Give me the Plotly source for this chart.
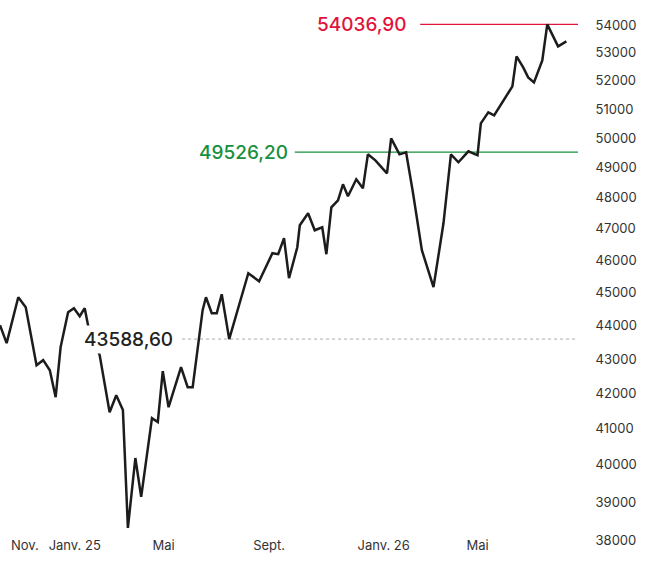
import math
import plotly.graph_objects as go

dates = [
    "2024-10-02", "2024-10-10", "2024-10-24", "2024-11-02", "2024-11-15", "2024-11-23",
    "2024-12-01", "2024-12-08", "2024-12-14", "2024-12-23", "2024-12-30", "2025-01-06",
    "2025-01-12", "2025-01-16", "2025-01-23", "2025-01-30", "2025-02-11", "2025-02-19",
    "2025-02-27", "2025-03-05", "2025-03-14", "2025-03-21", "2025-04-03", "2025-04-10",
    "2025-04-16", "2025-04-23", "2025-05-08", "2025-05-16", "2025-05-22", "2025-06-03",
    "2025-06-07", "2025-06-14", "2025-06-20", "2025-06-26", "2025-07-05", "2025-07-28",
    "2025-08-10", "2025-08-26", "2025-09-02", "2025-09-09", "2025-09-15", "2025-09-25",
    "2025-09-28", "2025-10-08", "2025-10-16", "2025-10-25", "2025-10-30", "2025-11-05",
    "2025-11-13", "2025-11-19", "2025-11-25", "2025-12-05", "2025-12-13", "2025-12-19",
    "2025-12-28", "2026-01-11", "2026-01-16", "2026-01-26", "2026-02-03", "2026-02-11",
    "2026-02-22", "2026-03-08", "2026-03-20", "2026-03-29", "2026-04-07", "2026-04-19",
    "2026-04-30", "2026-05-04", "2026-05-13", "2026-05-20", "2026-06-11", "2026-06-16",
    "2026-06-24", "2026-06-30", "2026-07-07", "2026-07-17", "2026-07-23", "2026-08-05",
    "2026-08-15",
]
values = [
    44005, 43469, 44852, 44549, 42817, 42966,
    42671, 41893, 43351, 44394, 44518, 44273,
    44518, 44005, 43556, 43114, 41466, 41950,
    41525, 38313, 40188, 39134, 41297, 41185,
    42642, 41607, 42758, 42181, 42181, 44457,
    44852, 44364, 44364, 44944, 43586, 45593,
    45345, 46220, 46189, 46696, 45438, 46409,
    47110, 47497, 46950, 47046, 46189, 47693,
    47922, 48448, 48053, 48613, 48315, 49449,
    49247, 48812, 49992, 49449, 49517, 48218,
    46316, 45161, 47174, 49449, 49183, 49550,
    49417, 50506, 50888, 50783, 51799, 52870,
    52474, 52117, 51940, 52726, 54036.9, 53233,
    53413,
]

tick_dates = ["2024-11-01", "2024-12-31", "2025-04-17", "2025-08-22", "2026-01-07", "2026-04-30"]
tick_labels = ["Nov.", "Janv. 25", "Mai", "Sept.", "Janv. 26", "Mai"]

y_ticks = list(range(38000, 55000, 1000))
y_tick_labels = [str(v) for v in y_ticks]

level_values = [54036.90, 49526.20, 43588.60]
level_labels = ["54036,90", "49526,20", "43588,60"]
level_colors = ["#e2133a", "#17903d", "#222222"]

FONT = "Inter"

fig = go.Figure()
fig.add_trace(go.Scatter(
    x=dates, y=values, mode="lines",
    line=dict(color="#1c1c1c", width=2.5),
    hoverinfo="skip", showlegend=False,
))

# reference lines (start / label end in paper fractions)
line_start = [0.727, 0.510, 0.315]
label_end = [0.709, 0.503, 0.304]
dashes = ["solid", "solid", "dot"]
line_cols = ["#e2133a", "#17903d", "#aaaaaa"]
for v, lab, c, x0, xl, d, lc in zip(level_values, level_labels, level_colors,
                                     line_start, label_end, dashes, line_cols):
    fig.add_shape(type="line", xref="paper", yref="y", x0=x0, x1=1, y0=v, y1=v,
                  line=dict(color=lc, width=1.3 if d == "solid" else 1, dash=d),
                  layer="below")
    fig.add_annotation(xref="paper", yref="y", x=xl, y=math.log10(v), text=lab,
                       showarrow=False, xanchor="right", yanchor="middle",
                       font=dict(family=FONT, size=19, color=c, weight=500),
                       bgcolor="white", borderpad=2)

fig.update_layout(
    width=645, height=565,
    margin=dict(l=0, r=67, t=20, b=25),
    paper_bgcolor="white", plot_bgcolor="white",
    font=dict(family=FONT, color="#333333"),
    xaxis=dict(
        type="date", range=["2024-10-02", "2026-08-29"],
        tickvals=tick_dates, ticktext=tick_labels,
        showgrid=False, zeroline=False, showline=False, ticks="",
        tickfont=dict(size=13, color="#333333"),
        ticklabelstandoff=-4, automargin=False,
    ),
    yaxis=dict(
        type="log", side="right",
        range=[math.log10(38000), math.log10(54200)],
        tickvals=y_ticks, ticktext=y_tick_labels,
        showgrid=False, zeroline=False, showline=False,
        ticks="outside", ticklen=14, tickcolor="rgba(0,0,0,0)",
        tickfont=dict(size=13, color="#333333"),
        automargin=False,
    ),
)

fig.write_html("out.html", config={"displayModeBar": False},
               post_script="document.body.style.margin='0';")
